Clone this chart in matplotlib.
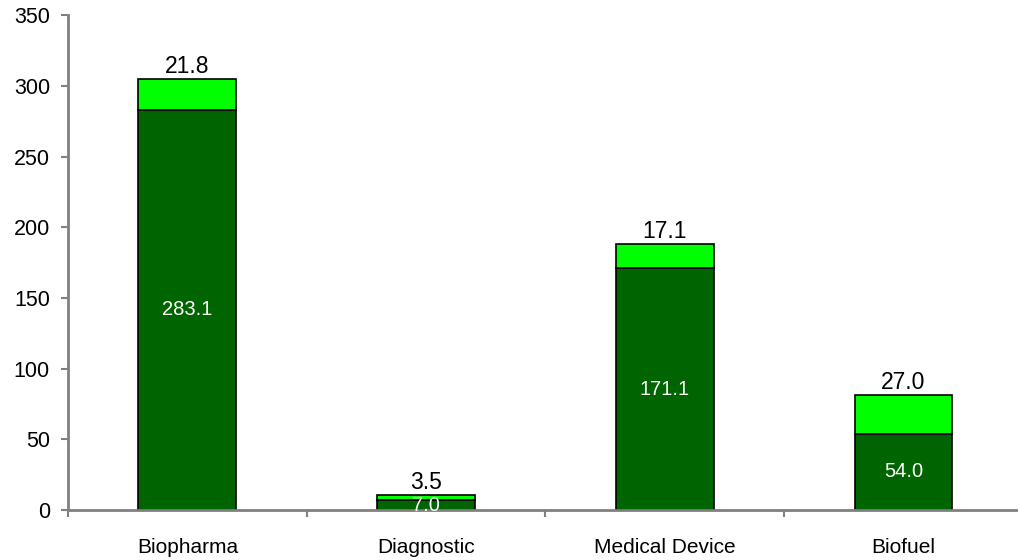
import matplotlib
matplotlib.use("Agg")
import matplotlib.pyplot as plt
import numpy as np

categories = ["Biopharma", "Diagnostic", "Medical Device", "Biofuel"]
base_values = [283.1, 7.0, 171.1, 54.0]
top_values = [21.8, 3.5, 17.1, 27.0]
y_ticks = [0, 50, 100, 150, 200, 250, 300, 350]

plt.rcParams['font.family'] = ['Liberation Sans', 'DejaVu Sans']

fig = plt.figure(figsize=(10.18, 5.6), dpi=100)
ax = fig.add_axes([0.0668, 0.0893, 0.938, 0.8837])

x = np.arange(len(categories))
w = 0.41
ax.bar(x, base_values, width=w, color="#006400", edgecolor="black", linewidth=1.2)
ax.bar(x, top_values, width=w, bottom=base_values, color="#00FF00", edgecolor="black", linewidth=1.2)

for xi, b, t in zip(x, base_values, top_values):
    ax.text(xi, b / 2, f"{b:.1f}", ha="center", va="center", color="white", fontsize=14.5)
    ax.text(xi, b + t + 0.8, f"{t:.1f}", ha="center", va="bottom", color="black", fontsize=16.5)

ax.set_xlim(-0.5, len(categories) - 0.5)
ax.set_ylim(0, 350)
ax.set_yticks(y_ticks)
ax.set_xticks(x)
ax.set_xticklabels(categories, fontsize=15)
ax.set_xticks(np.arange(-0.5, len(categories), 1.0), minor=True)
ax.tick_params(axis="x", which="major", length=0, pad=20)
ax.tick_params(axis="x", which="minor", length=5, color="#808080", width=1.5)
ax.tick_params(axis="y", length=5, color="#808080", width=1.5, labelsize=15.5, pad=8)

for s in ["top", "right"]:
    ax.spines[s].set_visible(False)
for s in ["left", "bottom"]:
    ax.spines[s].set_color("#808080")
    ax.spines[s].set_linewidth(2)

fig.savefig("out.png", dpi=100)
